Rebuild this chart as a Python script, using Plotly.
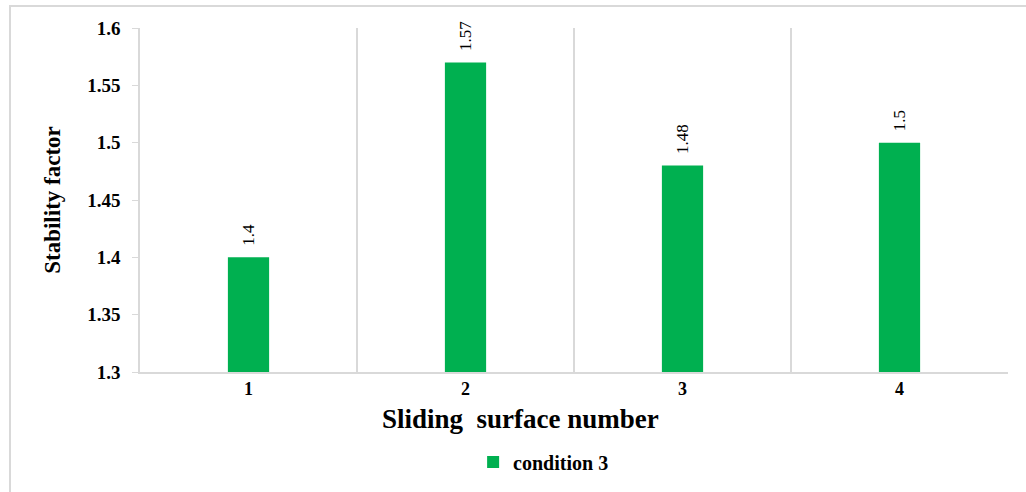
import plotly.graph_objects as go

# Stability factor for each sliding surface (condition 3)
surfaces = ["1", "2", "3", "4"]
stability = [1.40, 1.57, 1.48, 1.50]
value_labels = ["1.4", "1.57", "1.48", "1.5"]
y_ticks = [1.3, 1.35, 1.4, 1.45, 1.5, 1.55, 1.6]
y_tick_text = ["1.3", "1.35", "1.4", "1.45", "1.5", "1.55", "1.6"]
series_name = "condition 3"
x_title = "Sliding\u00a0 surface number"
y_title = "Stability factor"

FONT = "Times New Roman, Liberation Serif, serif"
GREEN = "#00B050"
GRID = "#D9D9D9"

fig = go.Figure(
    go.Bar(
        x=surfaces,
        y=stability,
        name=series_name,
        width=0.19,
        marker=dict(color=GREEN, line=dict(width=0)),
        text=value_labels,
        texttemplate="\u00a0\u00a0%{text}",
        textposition="outside",
        textangle=-90,
        textfont=dict(family=FONT, size=17, color="#000000"),
        cliponaxis=False,
        showlegend=True,
    )
)

fig.update_layout(
    width=1026,
    height=492,
    margin=dict(l=140, r=18, t=28, b=119),
    paper_bgcolor="white",
    plot_bgcolor="white",
    font=dict(family=FONT, color="#000000"),
    showlegend=True,
    legend=dict(
        orientation="h",
        x=0.465,
        xanchor="center",
        y=-0.258,
        yanchor="middle",
        font=dict(family=FONT, size=20, weight="bold"),
        itemwidth=30,
    ),
    xaxis=dict(
        type="category",
        tickson="boundaries",
        showgrid=True,
        gridcolor=GRID,
        gridwidth=1.5,
        showline=True,
        linecolor=GRID,
        linewidth=1.5,
        ticks="",
        tickfont=dict(family=FONT, size=18, weight="bold"),
    ),
    yaxis=dict(
        range=[1.3, 1.6],
        tickvals=y_ticks,
        ticktext=y_tick_text,
        showgrid=False,
        zeroline=False,
        showline=True,
        linecolor=GRID,
        linewidth=1.5,
        ticks="outside",
        ticklen=6,
        tickcolor=GRID,
        tickfont=dict(family=FONT, size=19, weight="bold"),
        ticklabelstandoff=8,
        title=dict(
            text=y_title,
            font=dict(family=FONT, size=23, weight="bold"),
            standoff=20,
        ),
    ),
    annotations=[
        dict(
            text=x_title,
            xref="paper",
            yref="paper",
            x=0.438,
            y=-0.136,
            xanchor="center",
            yanchor="middle",
            showarrow=False,
            font=dict(family=FONT, size=27, weight="bold"),
        )
    ],
    shapes=[
        dict(
            type="rect",
            xref="paper",
            yref="paper",
            x0=-130 / 868,
            x1=1.2,
            y0=-0.5,
            y1=1 + 22 / 345,
            line=dict(color="#D9D9D9", width=2),
            fillcolor="rgba(0,0,0,0)",
            layer="below",
        )
    ],
)

fig.write_html("out.html")
